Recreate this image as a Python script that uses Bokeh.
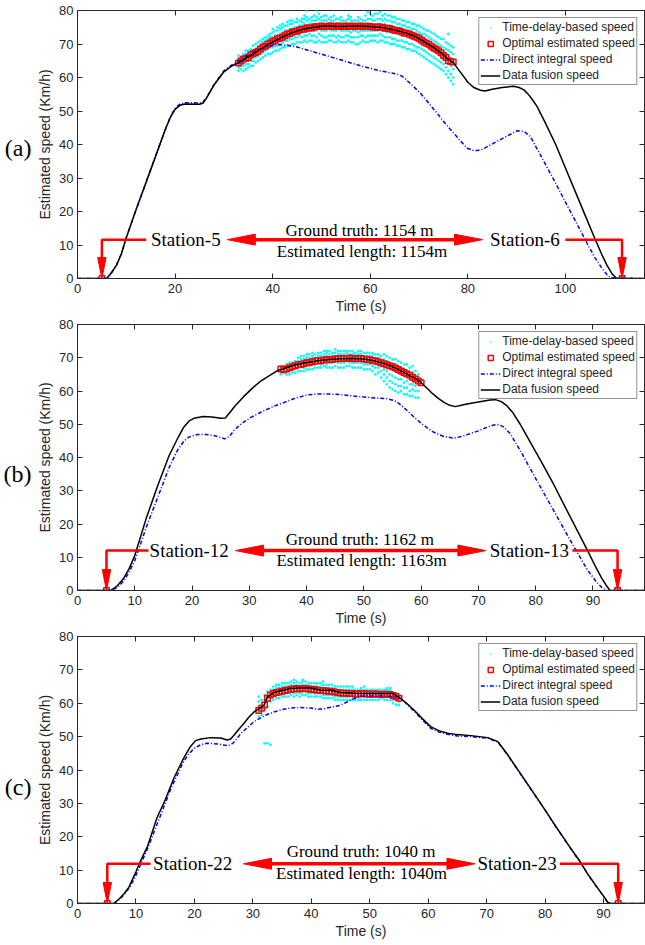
from bokeh.plotting import figure
from bokeh.layouts import column
from bokeh.models import Range1d, LinearAxis, Label, FixedTicker
from bokeh.embed import file_html
from bokeh.resources import INLINE

# ---------------- data: panel (a) ----------------
a_fusion_t = [0, 6, 7, 8, 9, 10, 12, 15, 18, 19, 20, 21, 22, 25, 25.7, 26.5, 27.9, 30, 31.5, 33,
              34, 35, 36, 37, 38, 39, 40, 41, 42, 43, 44, 45, 46, 47, 48, 49, 50, 52, 54, 56, 58,
              60, 61, 62, 63, 64, 65, 66, 67, 68, 69, 70, 71, 72, 73, 74, 75, 76, 77, 78, 79.2,
              80, 81.2, 82.6, 83.5, 85, 87, 89.4, 90.5, 91.5, 92.5, 93.3, 94.2, 96, 98, 100, 102,
              104, 106, 107.5, 108.5, 109.5, 110.5, 116.2]
a_fusion_v = [0, 0, 1.8, 4, 7.4, 12.2, 20.5, 32.5, 44.5, 48, 50.5, 51.7, 52.1, 52, 52.3, 54, 57.6,
              61.7, 63.3, 64.4, 65.3, 66.2, 67, 68, 68.9, 69.8, 70.6, 71.4, 72.1, 72.8, 73.4, 73.9,
              74.3, 74.6, 74.9, 75.1, 75.3, 75.3, 75.2, 75.3, 75.3, 75.2, 75.1, 75.0, 74.8, 74.5,
              74.2, 73.8, 73.4, 72.9, 72.4, 71.6, 70.7, 69.8, 68.9, 67.9, 66.8, 65.3, 64.5, 62.5,
              60.2, 58.6, 57.0, 56.2, 56.0, 56.5, 57.0, 57.4, 57.0, 56.3, 54.8, 53.2, 51.3, 46.1,
              40.0, 33.0, 26.0, 19.0, 12.0, 7.0, 4.0, 1.5, 0, 0]
a_direct_t = [0, 6, 7, 8, 9, 10, 12, 15, 18, 19, 20, 21, 22, 25, 25.7, 26.5, 28, 30, 31.5, 33,
              35, 37, 39, 40, 41.5, 43, 45, 48, 51.8, 55, 58.7, 62, 65.5, 66.5, 68, 70.3, 72,
              73.7, 75.5, 77.1, 78.5, 79.9, 81, 81.9, 83, 85.3, 88, 90.1, 91.5, 92.8, 95, 97.6,
              100, 102, 104.4, 106, 107.5, 108.5, 109.3, 116.2]
a_direct_v = [0, 0, 1.8, 4, 7.4, 12.2, 20.5, 32.5, 44.5, 48.2, 50.8, 52.1, 52.5, 52.4, 52.6, 54.2,
              57.9, 62, 63.6, 64.9, 66.7, 68.2, 69.2, 69.6, 69.8, 69.6, 69.1, 67.8, 66.2, 64.8,
              63.2, 62, 61, 60.4, 58.5, 55.3, 52.3, 49.3, 46, 43.4, 41, 38.9, 38.3, 38.2, 38.6,
              40.4, 42.5, 44.1, 43.9, 42.4, 36.5, 29.5, 22.8, 17.3, 10.6, 6.3, 3.0, 1.2, 0.2, 0]
a_opt_t = [5, 33, 33.5, 34, 34.5, 35, 35.5, 36, 36.5, 37, 37.5, 38, 38.5, 39, 39.5, 40, 40.5, 41,
           41.5, 42, 42.5, 43, 43.5, 44, 44.5, 45, 45.5, 46, 46.5, 47, 47.5, 48, 48.5, 49, 49.5,
           50, 50.5, 51, 51.5, 52, 52.5, 53, 53.5, 54, 54.5, 55, 55.5, 56, 56.5, 57, 57.5, 58,
           58.5, 59, 59.5, 60, 60.5, 61, 61.5, 62, 62.5, 63, 63.5, 64, 64.5, 65, 65.5, 66, 66.5,
           67, 67.5, 68, 68.5, 69, 69.5, 70, 70.5, 71, 71.5, 72, 72.5, 73, 73.5, 74, 74.5, 75,
           75.5, 76, 76.5, 77, 111.6]
a_opt_v = [0, 64.3, 64.9, 65.5, 65.7, 66.0, 66.7, 67.2, 67.5, 67.8, 68.5, 69.1, 69.3, 69.9, 70.3,
           70.8, 71.0, 71.6, 71.8, 72.0, 72.5, 72.9, 73.1, 73.5, 73.7, 73.8, 74.2, 74.4, 74.4,
           74.8, 74.8, 74.8, 75.1, 75.2, 75.2, 75.4, 75.2, 75.2, 75.4, 75.4, 75.2, 75.3, 75.4,
           75.2, 75.3, 75.4, 75.2, 75.3, 75.4, 75.2, 75.3, 75.4, 75.2, 75.3, 75.3, 75.2, 75.1,
           75.0, 75.1, 75.1, 74.9, 74.7, 74.7, 74.6, 74.3, 74.1, 74.0, 73.9, 73.6, 73.3, 73.2,
           73.0, 72.6, 72.3, 72.0, 71.7, 71.2, 70.6, 70.2, 69.9, 69.3, 68.8, 68.4, 68.0, 67.4,
           66.6, 66.0, 65.0, 64.8, 64.6, 0]
a_delay_t = [33, 34, 35, 36, 37, 38, 39, 40, 41, 42, 43, 44, 45, 46, 47, 48, 49, 50, 51, 52, 53,
             54, 55, 56, 57, 58, 59, 60, 61, 62, 63, 64, 65, 66, 67, 68, 69, 70, 71, 72, 73, 74,
             75, 76, 77]
a_delay_v = [
    [62, 63, 64, 65.5, 66.5], [62, 63.5, 64.5, 66, 67], [63, 64, 65.5, 67, 68],
    [63.5, 65, 66.5, 68, 69.5], [65, 66.5, 68, 69, 70.5], [66, 67.5, 69, 70.5, 71.5],
    [67, 68.5, 70, 71.5, 72.5], [67.5, 69, 70.5, 72, 73.5, 74.5], [68, 69.5, 71, 72.5, 74, 75],
    [69, 70.5, 72, 73.5, 75, 76], [69.5, 71, 72.5, 74, 75.5, 76.5], [70, 71.5, 73, 74.5, 76, 77],
    [70.5, 72, 73.5, 75, 76.5, 77.5], [70.5, 72, 74, 75.5, 76.5, 77.5],
    [70.5, 72.5, 74, 75.5, 77, 78, 80], [71, 72.5, 74.5, 76, 77, 78],
    [70.5, 72, 74, 75.5, 77, 78, 80], [70.5, 72.5, 74, 76, 77, 78], [70.5, 72, 74, 75.5, 77, 78.5],
    [71, 72.5, 74, 75.5, 77, 78], [70.5, 72, 74, 76, 77.5], [70.5, 72, 74, 75.5, 77, 78],
    [70.5, 72.5, 74, 76, 77], [70.5, 72, 73.5, 75.5, 77, 78], [70, 72, 74, 75.5, 77],
    [70.5, 72.5, 74, 76, 77.5], [70.5, 72, 74, 75.5, 77, 78.5], [71, 72.5, 74, 76, 77.5, 79],
    [71, 72.5, 74, 75.5, 77, 79], [71, 73, 74.5, 76, 77.5, 79.5], [70.5, 72, 74, 76, 77.5, 79],
    [70, 72, 74, 75.5, 77, 78.5], [70, 71.5, 73.5, 75, 76.5, 78], [69.5, 71, 73, 74.5, 76, 77.5],
    [69, 70.5, 72.5, 74, 75.5, 77], [68.5, 70, 72, 73.5, 75, 76.5], [68, 69.5, 71.5, 73, 74.5, 76],
    [67, 69, 70.5, 72, 73.5, 75.5], [66, 68, 70, 71.5, 73, 74.5], [65, 67, 69, 70.5, 72, 74],
    [64, 66, 68, 69.5, 71, 73], [63, 65, 67, 68.5, 70, 72], [62, 64, 66, 67.5, 69, 71.5],
    [60, 62, 64, 66, 68, 70, 73], [58, 60, 62.5, 65, 67, 69]]
a_delay_t2 = [33.5, 34.5, 35.5, 36.5, 37.5, 38.5, 39.5, 40.5, 41.5, 42.5, 43.5, 44.5, 45.5, 46.5,
              47.5, 48.5, 49.5, 50.5, 51.5, 52.5, 53.5, 54.5, 55.5, 56.5, 57.5, 58.5, 59.5, 60.5,
              61.5, 62.5, 63.5, 64.5, 65.5, 66.5, 67.5, 68.5, 69.5, 70.5, 71.5, 72.5, 73.5, 74.5,
              75.5, 76.5]
a_delay_v2 = [
    [62.5, 63.5, 65, 66], [62.5, 64, 65.5, 67, 68], [63.5, 65, 66.5, 67.5, 68.5],
    [64.5, 66, 67.5, 68.5, 70], [65.5, 67, 68.5, 69.5, 71], [66.5, 68, 69.5, 71, 72],
    [67, 69, 70.5, 72, 73], [68, 69.5, 71, 72.5, 74], [68.5, 70, 71.5, 73, 74.5, 75.5],
    [69, 71, 72.5, 74, 75.5], [69.5, 71.5, 73, 74.5, 76, 77], [70, 72, 73.5, 75, 76.5],
    [70.5, 72.5, 74, 75.5, 77], [71, 72.5, 74.5, 76, 77.5, 78.5], [71, 73, 74.5, 76, 77.5],
    [70.5, 72.5, 74, 75.5, 77, 78.5], [71, 73, 74.5, 76, 77.5, 79], [70.5, 72, 74, 75.5, 77, 78.5],
    [71, 72.5, 74.5, 76, 77.5], [70.5, 72.5, 74, 75.5, 77, 78.5], [71, 72.5, 74.5, 76, 77.5],
    [70.5, 72, 74, 75.5, 77], [71, 72.5, 74, 76, 77.5, 78.5], [70.5, 72, 74, 75.5, 77],
    [70, 72, 73.5, 75.5, 77, 78], [71, 72.5, 74, 75.5, 77], [70.5, 72.5, 74, 76, 77.5, 79.5],
    [71, 72.5, 74, 75.5, 77, 78.5], [70.5, 72.5, 74, 76, 77.5, 79], [71, 72.5, 74, 75.5, 77, 78.5],
    [70.5, 72, 73.5, 75.5, 77, 78.5], [70, 71.5, 73.5, 75, 76.5, 78], [69.5, 71, 73, 74.5, 76, 77.5],
    [69, 71, 72.5, 74, 75.5, 77], [68.5, 70.5, 72, 73.5, 75, 76.5], [68, 70, 71.5, 73, 74.5, 76],
    [67.5, 69, 71, 72.5, 74, 75.5], [66.5, 68.5, 70, 71.5, 73, 75], [65.5, 67.5, 69.5, 71, 72.5, 74],
    [64.5, 66.5, 68.5, 70, 71.5, 73.5], [63.5, 65.5, 67.5, 69, 70.5, 72.5],
    [62.5, 64.5, 66.5, 68, 69.5, 71.5], [61, 63, 65, 67, 68.5, 70.5], [59, 61, 63.5, 65.5, 67.5, 69.5]]

# ---------------- data: panel (b) ----------------
b_fusion_t = [0, 5.8, 7, 8, 9, 10, 12, 14, 16, 17.5, 18.5, 19.5, 20.5, 22, 23.5, 25, 25.8, 26.5,
              27.5, 29, 30.5, 32, 33.5, 35, 36, 37, 38, 40, 42, 44, 46, 48, 50, 52, 53, 54, 55,
              56, 57, 58, 59, 60, 61, 62, 63, 64, 65, 66, 67, 68, 70, 72, 73, 74, 75, 76, 77.3,
              79, 81, 83, 85, 87, 89, 90.5, 91.5, 92.3, 93, 99]
b_fusion_v = [0, 0, 1.5, 3.5, 6.5, 10.5, 21.7, 31.5, 40.6, 45.8, 49.0, 51.0, 51.9, 52.3, 52.2,
              51.8, 51.9, 53.3, 55.5, 58.3, 60.8, 63.0, 64.6, 66.2, 66.7, 67.3, 67.8, 68.5, 69.1,
              69.5, 69.7, 69.8, 69.6, 69.0, 68.5, 68.0, 67.3, 66.5, 65.6, 64.6, 63.7, 62.5, 60.9,
              59.2, 57.8, 56.6, 55.7, 55.3, 55.7, 56.1, 56.7, 57.3, 57.4, 56.8, 55.5, 53.5, 50.0,
              44.8, 38.7, 32.4, 25.6, 18.9, 12.2, 7.0, 3.8, 1.6, 0, 0]
b_direct_t = [0, 6, 7, 8, 9, 10, 12, 14, 16, 17.5, 18.6, 19.5, 20.9, 22.5, 23.8, 25, 25.7, 26.5,
              27.3, 28.5, 30.2, 32, 34, 36, 38, 40, 42, 44, 46, 48, 50, 52, 54, 55.2, 56, 57, 58,
              59, 60, 61, 62, 63, 64, 65.7, 67, 68.6, 70, 71.5, 72.7, 73.5, 74.4, 75.5, 77.3, 79,
              81, 83.1, 85, 87, 89, 90.5, 91.5, 92.4, 99]
b_direct_v = [0, 0, 1, 2.7, 5.5, 9, 19, 28, 37, 42.3, 45, 46.2, 46.9, 46.9, 46.6, 46, 45.6, 46.3,
              48.1, 50, 52, 53.6, 55.2, 56.5, 57.8, 58.8, 59.1, 59.1, 58.9, 58.5, 58.2, 57.9,
              57.7, 57.2, 56.4, 55, 53.4, 51.8, 50.3, 49, 47.8, 47, 46.3, 45.8, 46.3, 47.2, 48,
              49.1, 49.8, 49.9, 49.2, 47.3, 42.1, 36.8, 30.6, 24.2, 18.3, 12.2, 6.3, 2.8, 1.0, 0, 0]
b_opt_t = [5.06, 35.5, 36, 36.5, 37, 37.5, 38, 38.5, 39, 39.5, 40, 40.5, 41, 41.5, 42, 42.5, 43,
           43.5, 44, 44.5, 45, 45.5, 46, 46.5, 47, 47.5, 48, 48.5, 49, 49.5, 50, 50.5, 51, 51.5,
           52, 52.5, 53, 53.5, 54, 54.5, 55, 55.5, 56, 56.5, 57, 57.5, 58, 58.5, 59, 59.5, 60,
           94.3]
b_opt_v = [0, 66.6, 66.4, 66.6, 67.0, 67.3, 67.6, 67.9, 68.0, 68.2, 68.5, 68.6, 68.8, 69.0, 69.1,
           69.1, 69.3, 69.5, 69.4, 69.5, 69.7, 69.7, 69.8, 69.8, 69.8, 69.9, 69.8, 69.7, 69.8,
           69.8, 69.6, 69.5, 69.4, 69.2, 69.0, 68.8, 68.5, 68.2, 67.9, 67.6, 67.3, 66.9, 66.5,
           66.0, 65.6, 65.2, 64.7, 64.1, 63.6, 63.0, 62.5, 0]
b_delay_t = [35.5, 36.5, 37.5, 38.5, 39.5, 40.5, 41.5, 42.5, 43.5, 44.5, 45.5, 46.5, 47.5, 48.5,
             49.5, 50.5, 51.5, 52.5, 53.5, 54.5, 55.5, 56.5, 57.5, 58.5, 59.5]
b_delay_v = [
    [65, 66, 67.5], [65, 66, 67, 68], [65.5, 66.5, 67.5, 68.5], [66, 67, 68, 69, 70],
    [66, 67, 68.5, 69.5, 70.5], [66.5, 67.5, 69, 70, 71], [67, 68, 69, 70, 71],
    [67, 68, 69.5, 70.5, 71.5], [67, 68, 69.5, 70.5, 71.5, 72], [67, 68.5, 69.5, 70.5, 71.5],
    [67, 68.5, 70, 71, 72], [67, 68.5, 70, 71, 72], [67.5, 68.5, 70, 71, 72], [67, 68.5, 70, 71, 71.5],
    [67, 68.5, 70, 71, 72], [66.5, 68, 69.5, 70.5, 71.5], [66, 67.5, 69, 70.5, 71.5],
    [65.5, 67, 68.5, 70, 71], [63, 65, 66.5, 68, 69.5, 71], [61, 63, 65, 67, 68.5, 70],
    [60, 62, 64, 66, 68, 69.5], [60, 61.5, 63.5, 65.5, 67, 68.5], [59, 61, 63, 64.5, 66, 68],
    [58.5, 60.5, 62, 64, 65.5, 67.5], [58, 60, 62, 63.5, 65]]
b_delay_t2 = [36, 37, 38, 39, 40, 41, 42, 43, 44, 45, 46, 47, 48, 49, 50, 51, 52, 53, 54, 55, 56,
              57, 58, 59]
b_delay_v2 = [
    [65.5, 66.5, 67.5], [65, 66, 67, 68.5], [65.5, 67, 68, 69], [66, 67.5, 68.5, 69.5, 70.5],
    [66.5, 67.5, 68.5, 70, 71], [66.5, 68, 69.5, 70.5, 71.5], [67, 68.5, 69.5, 70.5, 71.5],
    [67.5, 68.5, 70, 71, 72], [67, 68.5, 70, 71, 72], [67.5, 69, 70, 71.5, 72.5],
    [67, 68.5, 70, 71, 72], [67.5, 69, 70, 71.5, 72], [67, 68.5, 70, 71, 72], [67, 68.5, 69.5, 71, 72],
    [66.5, 68, 69.5, 70.5, 71.5], [66.5, 68, 69, 70.5, 71.5], [65, 67, 68.5, 70, 71],
    [64, 66, 67.5, 69, 70.5], [62, 64, 66, 67.5, 69, 70.5], [60.5, 62.5, 64.5, 66.5, 68, 69.5],
    [59.5, 61.5, 63.5, 65.5, 67, 69], [59, 61, 62.5, 64.5, 66.5, 68], [58.5, 60, 62, 63.5, 65.5, 67],
    [58, 60, 61.5, 63, 64.5, 66]]

# ---------------- data: panel (c) ----------------
c_fusion_t = [0, 6.2, 7.2, 8, 8.8, 10, 10.8, 12, 13.6, 15, 16.5, 18, 19.3, 20.2, 21.1, 22.8, 24.5,
              25.6, 26.2, 26.8, 27.6, 28.5, 29.3, 30.2, 31, 31.9, 32.5, 33.6, 35, 36.5, 38, 39.9,
              41.6, 43.3, 45, 47.5, 50.2, 52, 53.9, 55.3, 56.5, 57.6, 59, 60.4, 61.8, 63.3, 65,
              67.3, 70.2, 71.9, 73.5, 75.9, 78, 80, 81.6, 84, 86, 87.3, 89, 90, 90.7, 91.2, 97]
c_fusion_v = [0, 0, 1.5, 3, 4.9, 9.5, 12.8, 17.2, 25.7, 31, 37.6, 43, 47, 48.8, 49.3, 49.7, 49.6,
              49, 49.3, 50.5, 52.2, 54, 55.8, 57.4, 58.3, 59.4, 61.9, 63.2, 63.8, 64.4, 64.6,
              64.6, 63.9, 63.9, 63.2, 63.0, 62.9, 62.9, 62.9, 61.4, 59.7, 57.9, 55.4, 53, 51.8,
              51, 50.6, 50.3, 49.7, 48.5, 44.8, 38.6, 33.2, 28, 23.7, 17.5, 12.5, 8.8, 4.6, 2.2,
              0.4, 0, 0]
c_direct_t = [0, 6.2, 7.2, 8, 9, 10, 11, 12, 14, 16, 18, 19, 20, 21, 22.2, 24, 25.6, 26.2, 26.8,
              28, 30.2, 32, 33.6, 35, 36.5, 38, 39.9, 41, 42, 43.3, 45, 46, 47.3, 48.5, 50.2, 52,
              54.7, 55.5, 56.5, 57.6, 59, 60.4, 61.8, 63.3, 65, 67.3, 70.2, 71.9, 73.5, 75.9, 78,
              80, 81.6, 84, 86, 87.3, 89, 90, 90.7, 91.2, 97]
c_direct_v = [0, 0, 1.2, 2.8, 5, 8.5, 12.5, 16.5, 25.5, 34.5, 42, 44.8, 46.5, 47.5, 48, 47.8,
              47.3, 47.5, 48.4, 51, 54.5, 56.3, 57.4, 58.1, 58.6, 58.7, 58.6, 58.2, 58.3, 58.8,
              59.4, 60.3, 61.4, 62, 62.2, 62.2, 61.9, 61.2, 59.5, 57.6, 55, 52.5, 51.4, 50.7,
              50.2, 50.0, 49.5, 48.4, 44.7, 38.5, 33.1, 28, 23.6, 17.4, 12.4, 8.7, 4.5, 2.1, 0.3,
              0, 0]
c_opt_t = [5.1, 31, 31.5, 32, 32.5, 33, 33.5, 34, 34.5, 35, 35.5, 36, 36.5, 37, 37.5, 38, 38.5,
           39, 39.5, 40, 40.5, 41, 41.5, 42, 42.5, 43, 43.5, 44, 44.5, 45, 45.5, 46, 46.5, 47,
           47.5, 48, 48.5, 49, 49.5, 50, 50.5, 51, 51.5, 52, 52.5, 53, 53.5, 54, 54.5, 55, 92.5]
c_opt_v = [0, 57.8, 58.5, 59.5, 61.5, 62.5, 62.9, 63.2, 63.4, 63.6, 63.8, 64.0, 64.2, 64.3, 64.4,
           64.3, 64.4, 64.4, 64.3, 64.2, 64.1, 63.9, 63.8, 63.8, 63.7, 63.6, 63.5, 63.4, 63.2,
           63.1, 63.0, 63.0, 62.9, 62.9, 62.8, 62.8, 62.9, 62.9, 62.8, 62.7, 62.8, 62.8, 62.7,
           62.6, 62.7, 62.7, 62.6, 62.3, 62.0, 61.5, 0]
c_delay_t = [31, 32, 33, 34, 35, 36, 37, 38, 39, 40, 41, 42, 43, 44, 45, 46, 47, 48, 49, 50, 51,
             52, 53, 54, 55]
c_delay_v = [
    [56, 57.5, 59, 60.5, 62], [48, 58, 59.5, 61, 62.5], [47.5, 60.5, 62, 63, 64],
    [61.5, 62.5, 63.5, 64.5, 65.5], [62, 63, 64, 65, 66], [62, 63, 64, 65, 66],
    [62, 63, 64, 65, 66, 67], [62, 63, 64, 65, 66], [62.5, 63.5, 64.5, 65.5, 66.5],
    [62, 63, 64, 65, 66], [62, 63, 64, 65, 66], [61.5, 62.5, 63.5, 64.5, 65.5, 66.5],
    [61.5, 62.5, 63.5, 64.5, 65.5], [61, 62, 63, 64, 65], [61, 62, 63, 64, 65],
    [61, 62, 63, 64, 65], [61, 62, 63, 64, 65], [61, 62, 63, 64], [61, 62, 63, 64, 65],
    [61, 62, 63, 64], [61, 62, 63, 64], [61.5, 62.5, 63.5, 64], [61, 62, 63, 64, 64.5],
    [60, 61, 62, 63], [59.5, 60.5, 61.5, 62]]
c_delay_t2 = [31.5, 32.5, 33.5, 34.5, 35.5, 36.5, 37.5, 38.5, 39.5, 40.5, 41.5, 42.5, 43.5, 44.5,
              45.5, 46.5, 47.5, 48.5, 49.5, 50.5, 51.5, 52.5, 53.5, 54.5]
c_delay_v2 = [
    [56.5, 58, 59.5, 61], [48, 59, 60.5, 62, 63.5], [61, 62, 63, 64, 65], [61.5, 62.5, 63.5, 64.5, 65.5],
    [62, 63, 64, 65, 66], [62.5, 63.5, 64.5, 65.5, 66.5], [62.5, 63.5, 64.5, 65.5, 66.5],
    [62.5, 63.5, 64.5, 65.5, 66.5, 67], [62, 63, 64, 65, 66], [62, 63, 64, 65, 66],
    [62, 63, 64, 65, 66], [61.5, 62.5, 63.5, 64.5, 65.5], [61.5, 62.5, 63.5, 64.5, 65.5],
    [61, 62, 63, 64, 65], [61, 62, 63, 64, 65], [61, 62, 63, 64, 65], [61, 62, 63, 64],
    [61, 62, 63, 64, 64.5], [61, 62, 63, 64], [61, 62, 63, 64], [61, 62, 63, 64], [61, 62, 63, 64],
    [61, 62, 63, 64, 64.5], [59.5, 61, 62, 63]]

y_ticks = [0, 10, 20, 30, 40, 50, 60, 70, 80]
a_x_ticks = [0, 20, 40, 60, 80, 100]
bc_x_ticks = [0, 10, 20, 30, 40, 50, 60, 70, 80, 90]

# annotation texts
a_texts = ["(a)", "Station-5", "Station-6", "Ground truth: 1154 m", "Estimated length: 1154m"]
b_texts = ["(b)", "Station-12", "Station-13", "Ground truth: 1162 m", "Estimated length: 1163m"]
c_texts = ["(c)", "Station-22", "Station-23", "Ground truth: 1040 m", "Estimated length: 1040m"]

SANS = "Liberation Sans"
SERIF = "Liberation Serif"
INK = "#262626"
FRAME_W = 567


def flatten(ts, cols):
    xs, ys = [], []
    for t, col in zip(ts, cols):
        for v in col:
            xs.append(t)
            ys.append(v)
    return xs, ys


def panel(xmax, xticks, height, top, frame_h, bottom, fus_t, fus_v, dir_t, dir_v,
          opt_t, opt_v, del_sets, texts, geo):
    p = figure(width=645, height=height, output_backend="svg", toolbar_location=None,
               x_range=Range1d(0, xmax), y_range=Range1d(0, 80),
               min_border_left=77, min_border_right=1, min_border_top=top,
               min_border_bottom=bottom)
    p.grid.visible = False
    p.outline_line_color = INK
    p.outline_line_width = 1
    p.background_fill_color = "white"
    p.border_fill_color = "white"

    for ax in (p.xaxis[0], p.yaxis[0]):
        ax.major_tick_in = 5
        ax.major_tick_out = 0
        ax.minor_tick_line_color = None
        ax.axis_line_color = INK
        ax.major_tick_line_color = INK
        ax.major_label_text_font = SANS
        ax.major_label_text_font_size = "13px"
        ax.major_label_text_color = INK
        ax.axis_label_text_font = SANS
        ax.axis_label_text_font_size = "14px"
        ax.axis_label_text_font_style = "normal"
        ax.axis_label_text_color = INK
    p.xaxis[0].ticker = FixedTicker(ticks=xticks)
    p.yaxis[0].ticker = FixedTicker(ticks=y_ticks)
    p.xaxis[0].axis_label = "Time (s)"
    p.yaxis[0].axis_label = "Estimated speed (Km/h)"
    p.xaxis[0].major_label_standoff = 5
    p.xaxis[0].axis_label_standoff = 2
    p.yaxis[0].major_label_standoff = 4
    p.yaxis[0].axis_label_standoff = 3

    # panel tag placed as a label-only axis to the left of the y axis
    tag_ax = LinearAxis(ticker=FixedTicker(ticks=[geo["tag_y"]]),
                        major_label_overrides={geo["tag_y"]: texts[0]},
                        major_tick_line_color=None, axis_line_color=None,
                        minor_tick_line_color=None, major_tick_in=0, major_tick_out=0,
                        major_label_text_font=SERIF, major_label_text_font_size="24px",
                        major_label_text_color="black", major_label_standoff=3,
                        major_label_orientation="horizontal")
    p.add_layout(tag_ax, "left")

    # box ticks on top and right (no labels)
    top_ax = LinearAxis(ticker=FixedTicker(ticks=xticks), major_tick_in=5, major_tick_out=0,
                        major_label_text_font_size="0px", major_label_text_color=None,
                        major_label_standoff=0, axis_line_color=None,
                        major_tick_line_color=INK, minor_tick_line_color=None)
    right_ax = LinearAxis(ticker=FixedTicker(ticks=y_ticks), major_tick_in=5, major_tick_out=0,
                          major_label_text_font_size="0px", major_label_text_color=None,
                          major_label_standoff=0, axis_line_color=None,
                          major_tick_line_color=INK, minor_tick_line_color=None)
    p.add_layout(top_ax, "above")
    p.add_layout(right_ax, "right")

    dx, dy = [], []
    for ts, cols in del_sets:
        fx, fy = flatten(ts, cols)
        dx += fx
        dy += fy
    p.scatter(dx, dy, marker="dot", size=11, fill_color="#00FFFF", line_color="#00FFFF",
              legend_label="Time-delay-based speed")
    p.scatter(opt_t, opt_v, marker="square", size=5.5, fill_color=None, line_color="#FF0000",
              line_width=1.5, legend_label="Optimal estimated speed")
    p.line(dir_t, dir_v, line_color="#0000FF", line_width=1.5, line_dash="4 2 1 2",
           legend_label="Direct integral speed")
    p.line(fus_t, fus_v, line_color="#000000", line_width=1.5,
           legend_label="Data fusion speed")

    lg = p.legend[0]
    lg.location = "top_right"
    lg.margin = 7
    lg.padding = 1
    lg.spacing = 0
    lg.label_height = 16
    lg.glyph_height = 13
    lg.glyph_width = 20
    lg.label_standoff = 2
    lg.label_text_font = SANS
    lg.label_text_font_size = "12px"
    lg.label_text_color = INK
    lg.border_line_color = INK
    lg.border_line_width = 1
    lg.background_fill_alpha = 1

    # annotations (arrows drawn in red)
    sx = FRAME_W / xmax
    sy = frame_h / 80.0
    red = "#FF0000"
    ya = geo["y"]
    L, W = 28 / sx, 5.5 / sy
    tl, tr = geo["tips"]
    p.line([tl + L * 0.6, tr - L * 0.6], [ya, ya], line_color=red, line_width=3.5)
    p.patches([[tl, tl + L, tl + L], [tr, tr - L, tr - L]],
              [[ya, ya + W, ya - W], [ya, ya + W, ya - W]],
              fill_color=red, line_color=red, line_width=1)
    hh, hw = 21 / sy, 4.2 / sx
    for xs_, gx in zip(geo["stations"], geo["brackets"]):
        p.line([gx, xs_, xs_], [ya, ya, hh], line_color=red, line_width=2.5)
        p.patch([xs_, xs_ - hw, xs_ + hw], [0, hh, hh], fill_color=red, line_color=red,
                line_width=1)

    _, st1, st2, gt, est = texts
    for txt, xx in ((st1, geo["st_x"][0]), (st2, geo["st_x"][1])):
        p.add_layout(Label(x=xx, y=ya, text=txt, text_font=SERIF, text_font_size="19px",
                           text_align="center", text_baseline="middle", text_color="black"))
    p.add_layout(Label(x=geo["gt"][0], y=geo["gt"][1], text=gt, text_font=SERIF,
                       text_font_size="17px", text_align="center", text_baseline="middle",
                       text_color="black"))
    p.add_layout(Label(x=geo["est"][0], y=geo["est"][1], text=est, text_font=SERIF,
                       text_font_size="17px", text_align="center", text_baseline="middle",
                       text_color="black"))
    return p


pa = panel(116.2, a_x_ticks, 316, 10, 269, 37, a_fusion_t, a_fusion_v, a_direct_t, a_direct_v,
           a_opt_t, a_opt_v, [(a_delay_t, a_delay_v), (a_delay_t2, a_delay_v2)], a_texts,
           dict(y=11.6, tips=(30.7, 83.0), stations=(5.0, 111.6), brackets=(14.1, 100.0),
                st_x=(22.2, 91.7), gt=(57.8, 14.4), est=(58.3, 8.1), tag_y=39))
pb = panel(99, bc_x_ticks, 312, 8, 267, 37, b_fusion_t, b_fusion_v, b_direct_t, b_direct_v,
           b_opt_t, b_opt_v, [(b_delay_t, b_delay_v), (b_delay_t2, b_delay_v2)], b_texts,
           dict(y=12.0, tips=(27.6, 71.3), stations=(5.06, 94.3), brackets=(12.4, 86.4),
                st_x=(19.5, 78.9), gt=(49.3, 15.2), est=(49.6, 9.0), tag_y=35))
pc = panel(97, bc_x_ticks, 317, 8, 267, 42, c_fusion_t, c_fusion_v, c_direct_t, c_direct_v,
           c_opt_t, c_opt_v, [(c_delay_t, c_delay_v), (c_delay_t2, c_delay_v2)], c_texts,
           dict(y=11.9, tips=(28.4, 68.0), stations=(5.1, 92.5), brackets=(12.5, 82.5),
                st_x=(19.7, 75.2), gt=(48.5, 15.6), est=(48.6, 8.9), tag_y=35))

layout = column(pa, pb, pc, spacing=0)
open("out.html", "w").write(file_html(layout, INLINE))
